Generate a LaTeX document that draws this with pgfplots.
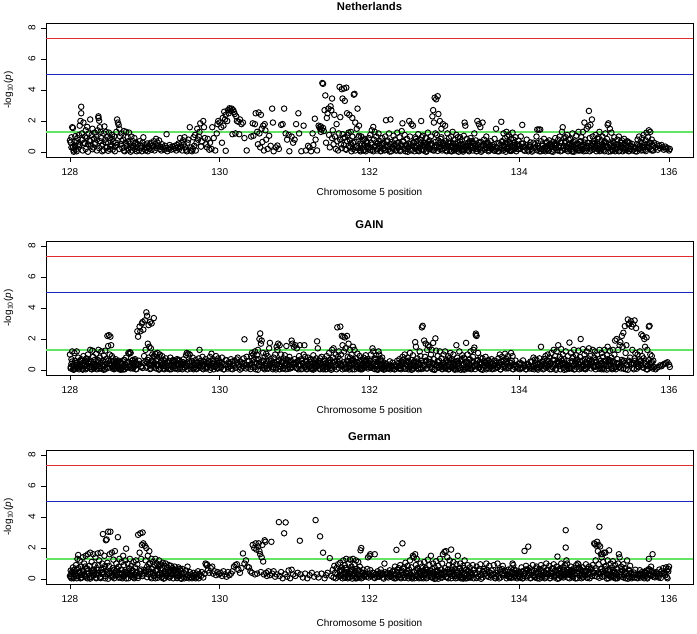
\documentclass[border=0pt]{standalone}
\usepackage{fontspec}
\setmainfont{Liberation Sans}
\usepackage{pgfplots}
\pgfplotsset{compat=1.18}
\definecolor{rred}{RGB}{225,45,45}
\definecolor{rblue}{RGB}{30,40,190}
\definecolor{rgreen}{RGB}{100,228,100}
\pgfplotsset{panel/.style={
  scale only axis, width=647pt, height=134pt, anchor=south west,
  xmin=127.68, xmax=136.32, ymin=-0.32, ymax=8.32,
  xtick={128,130,132,134,136}, ytick={0,2,4,6,8},
  tick align=outside, major tick length=5pt, tick pos=left,
  every tick/.style={line width=0.6pt},
  axis line style={line width=0.8pt},
  /pgf/number format/assume math mode=true,
  ticklabel style={font=\fontsize{10}{12}\selectfont},
  yticklabel style={rotate=90, anchor=south},
  xticklabel style={anchor=north},
  xticklabel shift=3pt, yticklabel shift=2pt,
},
dots/.style={only marks, mark=o, mark size=2.75pt, mark options={line width=0.95pt}},
hl/.style={mark=none, line width=0.9pt}}
\begin{document}
\begin{tikzpicture}[x=1pt,y=1pt]
\useasboundingbox (0,0) rectangle (697,633);
% ---------------- Netherlands
\begin{axis}[panel, at={(46pt,476pt)}]
\addplot[hl, draw=rred] coordinates {(127.68,7.3)(136.32,7.3)};
\addplot[hl, draw=rblue] coordinates {(127.68,5)(136.32,5)};
\addplot[dots] coordinates {
(128.00,0.75)(128.01,0.62)(128.02,0.95)(128.03,1.60)(128.04,1.55)(128.04,0.30)(128.05,0.10)(128.05,0.02)(128.06,0.22)(128.07,0.40)(128.07,1.02)(128.08,0.15)(128.09,0.70)(128.10,0.90)(128.11,0.50)(128.12,1.10)(128.12,0.35)(128.13,1.70)(128.14,2.00)(128.15,2.92)(128.15,2.50)(128.16,1.20)(128.17,0.80)(128.18,1.90)(128.19,0.60)(128.20,1.00)(128.21,1.40)(128.21,0.20)(128.22,0.90)(128.23,1.62)(128.24,0.50)(128.25,1.20)(128.26,0.75)(128.27,2.10)(128.28,0.40)(128.29,1.10)(128.30,1.50)(128.31,0.30)(128.32,0.85)(128.33,1.25)(128.34,0.60)(128.35,1.00)(128.36,0.10)(128.37,1.40)(128.38,2.30)(128.38,2.20)(128.39,2.02)(128.40,1.60)(128.40,0.70)(128.41,1.30)(128.42,0.90)(128.43,0.05)(128.44,0.50)(128.45,1.20)(128.46,1.65)(128.47,0.80)(128.48,1.30)(128.49,0.30)(128.50,1.00)(128.51,0.60)(128.52,1.25)(128.53,0.20)(128.54,0.90)(128.55,0.45)(128.56,1.10)(128.57,0.15)(128.58,0.70)(128.59,1.00)(128.60,0.35)(128.61,0.60)(128.62,1.30)(128.63,2.10)(128.64,1.90)(128.65,1.75)(128.66,1.50)(128.67,1.00)(128.68,0.50)(128.69,1.20)(128.70,0.25)(128.71,0.80)(128.72,1.35)(128.73,0.05)(128.74,0.60)(128.75,1.30)(128.76,0.40)(128.77,0.95)(128.78,0.15)(128.79,1.25)(128.80,0.55)(128.81,0.30)(128.82,1.00)(128.83,0.10)(128.84,0.70)(128.85,0.40)(128.86,0.90)(128.87,0.20)(128.88,0.60)(128.89,0.05)
(128.02,0.30)(128.06,0.65)(128.09,0.05)(128.13,0.45)(128.17,0.10)(128.20,0.55)(128.24,0.02)(128.27,0.70)(128.30,0.18)(128.33,0.50)(128.36,0.80)(128.39,0.25)(128.42,0.40)(128.45,0.12)(128.48,0.62)(128.51,0.08)(128.54,0.35)(128.57,0.85)(128.60,0.05)(128.63,0.45)(128.66,0.20)(128.69,0.72)(128.72,0.10)(128.75,0.50)(128.78,0.70)(128.81,0.02)(128.84,0.30)(128.87,0.55)
(128.90,0.30)(128.91,0.50)(128.92,0.10)(128.93,0.70)(128.94,0.25)(128.95,0.40)(128.96,0.05)(128.97,0.60)(128.98,0.95)(128.99,0.20)(129.00,0.45)(129.01,0.10)(129.02,0.30)(129.03,0.55)(129.04,0.05)(129.05,0.35)(129.06,0.20)(129.07,0.50)(129.08,0.60)(129.09,0.15)(129.10,0.40)(129.11,0.30)(129.12,0.70)(129.13,0.10)(129.14,0.50)(129.15,0.85)(129.16,0.25)(129.17,0.60)(129.18,0.40)(129.19,0.75)(129.20,0.20)(129.21,0.35)(129.22,0.10)(129.23,0.50)(129.24,0.30)(129.26,0.15)(129.27,0.40)(129.28,0.25)(129.29,1.15)(129.30,0.05)(129.32,0.20)(129.33,0.45)(129.34,0.30)(129.35,0.15)(129.37,0.35)(129.38,0.20)(129.40,0.40)(129.41,0.25)(129.42,0.10)(129.43,0.45)(129.44,0.30)(129.45,0.55)(129.46,0.20)(129.47,0.90)(129.48,0.35)(129.49,0.60)(129.50,0.10)(129.51,0.75)(129.52,0.50)(129.53,0.95)(129.54,0.30)(129.55,0.15)(129.56,0.05)(129.57,0.60)(129.58,0.80)
(129.60,1.60)(129.61,0.10)(129.62,0.30)(129.63,0.05)(129.64,0.20)(129.65,0.95)(129.66,0.40)(129.67,1.10)(129.68,0.10)(129.69,0.60)(129.70,1.50)(129.71,0.80)(129.72,1.00)(129.73,1.30)(129.74,1.85)(129.75,0.35)(129.76,0.70)(129.78,2.00)(129.79,1.60)(129.80,0.90)(129.82,0.50)(129.83,0.30)(129.84,0.85)(129.86,0.15)(129.87,0.60)(129.89,0.20)(129.90,1.60)(129.92,0.90)(129.94,0.10)(129.96,1.20)(129.97,1.80)(129.98,2.00)(130.00,1.90)
(130.02,1.60)(130.03,0.60)(130.04,2.20)(130.05,1.70)(130.06,2.60)(130.07,2.10)(130.08,2.40)(130.08,0.08)(130.10,2.00)(130.11,2.70)(130.12,2.50)(130.13,2.82)(130.14,2.75)(130.15,2.65)(130.16,2.80)(130.17,1.15)(130.18,2.70)(130.19,2.58)(130.20,2.45)(130.21,1.20)(130.22,2.30)(130.23,2.00)(130.25,1.95)(130.26,1.15)(130.27,2.10)(130.29,1.80)(130.31,1.90)(130.33,0.90)(130.36,0.10)
(130.42,1.00)(130.44,1.85)(130.45,1.05)(130.47,1.80)(130.48,2.50)(130.50,1.30)(130.51,0.50)(130.52,2.55)(130.53,1.20)(130.54,0.30)(130.55,2.40)(130.56,1.50)(130.57,0.65)(130.58,1.70)(130.59,0.10)(130.60,1.80)(130.61,1.40)(130.62,0.80)(130.64,0.20)(130.66,1.05)(130.68,0.40)(130.70,2.80)(130.71,1.90)(130.72,0.05)(130.75,0.30)(130.77,0.42)(130.79,0.20)(130.82,1.75)(130.84,1.80)(130.86,2.80)(130.88,1.20)(130.90,0.80)(130.92,1.10)(130.93,0.05)(130.96,1.00)(130.98,0.60)(131.00,0.80)(131.02,1.80)(131.05,2.50)(131.06,1.20)(131.09,0.05)(131.12,1.70)(131.15,0.10)(131.18,0.40)(131.20,0.30)(131.22,0.05)(131.24,1.20)(131.25,0.45)(131.27,2.15)(131.28,0.80)(131.30,0.10)
(131.32,1.70)(131.33,1.60)(131.34,1.50)(131.35,1.30)(131.35,1.65)(131.36,1.45)(131.37,4.45)(131.38,4.40)(131.38,1.55)(131.39,1.35)(131.40,2.70)(131.41,3.65)(131.42,0.60)(131.43,2.20)(131.44,2.50)(131.45,2.80)(131.46,1.10)(131.47,0.30)(131.48,2.95)(131.49,2.70)(131.50,3.45)(131.50,0.90)(131.51,1.40)(131.52,0.50)(131.53,2.40)(131.54,1.00)(131.55,0.20)(131.56,1.80)(131.57,0.70)(131.58,0.10)(131.59,1.20)
(131.60,4.20)(131.61,2.25)(131.62,0.50)(131.63,4.05)(131.64,3.45)(131.65,0.90)(131.66,4.10)(131.67,3.30)(131.68,0.20)(131.69,4.15)(131.70,2.50)(131.71,1.10)(131.72,0.40)(131.73,2.40)(131.74,0.75)(131.75,1.30)(131.76,0.05)(131.77,2.20)(131.78,0.60)(131.79,3.70)(131.80,3.75)(131.81,1.90)(131.82,0.30)(131.83,1.50)(131.84,2.80)(131.85,0.95)(131.86,1.70)(131.87,0.15)(131.88,0.55)(131.89,1.00)(131.90,0.25)(131.91,0.70)(131.92,0.10)(131.93,0.45)(131.94,0.85)(131.95,0.05)(131.96,0.35)(131.97,0.60)(131.98,0.20)(131.99,0.90)
(131.61,0.80)(131.63,0.25)(131.64,1.15)(131.66,0.45)(131.67,0.95)(131.69,0.15)(131.70,0.70)(131.72,1.25)(131.74,0.30)(131.75,0.55)(131.77,1.00)(131.78,0.20)(131.80,0.65)(131.81,0.10)(131.83,0.40)(131.85,0.25)(131.86,1.05)(131.88,0.05)(131.90,0.50)(131.92,0.80)(131.94,0.15)(131.96,0.70)(131.98,0.40)
(132.00,0.30)(132.01,1.10)(132.02,0.60)(132.03,1.40)(132.04,0.15)(132.05,1.62)(132.06,0.80)(132.07,1.30)(132.08,0.40)(132.09,1.00)(132.10,0.10)(132.11,0.55)(132.12,1.20)(132.13,0.25)(132.14,0.70)(132.15,0.05)(132.16,0.45)(132.17,0.90)(132.18,0.20)(132.19,0.60)(132.20,0.10)(132.21,1.00)(132.22,2.05)(132.23,0.35)(132.24,0.75)(132.25,0.15)(132.26,1.20)(132.27,0.50)(132.28,2.10)(132.29,0.05)(132.30,0.65)(132.31,0.30)(132.32,1.05)(132.33,0.20)(132.34,0.80)(132.35,0.45)(132.36,0.10)(132.37,1.25)(132.38,0.60)(132.39,0.30)(132.40,0.95)(132.41,0.15)(132.42,0.50)(132.43,1.35)(132.44,1.85)(132.45,0.70)(132.46,0.25)(132.47,1.10)(132.48,0.05)(132.49,0.40)
(132.50,0.85)(132.51,0.20)(132.52,0.55)(132.53,2.00)(132.54,1.00)(132.55,0.10)(132.56,1.80)(132.57,0.40)(132.58,1.70)(132.59,0.65)(132.60,0.05)(132.61,0.95)(132.62,0.30)(132.63,0.70)(132.64,0.15)(132.65,1.15)(132.66,0.50)(132.67,0.25)(132.68,0.80)(132.69,2.00)(132.70,0.40)(132.71,1.05)(132.72,0.10)(132.73,0.60)(132.74,0.35)(132.75,0.90)(132.76,0.02)(132.77,0.55)(132.78,1.25)(132.79,0.20)(132.80,0.75)(132.81,0.45)(132.82,1.00)(132.83,0.15)(132.84,2.30)(132.85,2.70)(132.86,1.90)(132.87,3.50)(132.88,0.65)(132.89,3.40)(132.90,1.10)(132.91,3.60)(132.92,2.45)(132.93,0.30)(132.94,2.00)(132.95,0.85)(132.96,1.50)(132.97,0.10)(132.98,1.80)(132.99,0.50)
(132.62,0.85)(132.66,0.05)(132.70,0.95)(132.74,0.60)(132.78,0.30)(132.82,0.55)(132.86,0.10)(132.88,1.20)(132.90,0.40)(132.92,0.75)(132.94,0.20)(132.96,0.95)(132.98,0.60)
(133.00,0.25)(133.01,1.70)(133.02,0.70)(133.03,0.05)(133.04,1.20)(133.05,0.40)(133.06,0.90)(133.07,0.15)(133.08,0.60)(133.09,1.00)(133.10,0.30)(133.11,1.30)(133.12,0.55)(133.13,0.10)(133.14,0.80)(133.15,0.35)(133.16,1.10)(133.17,0.20)(133.18,0.65)(133.19,0.02)(133.20,0.45)(133.21,0.95)(133.22,0.25)(133.23,0.75)(133.24,0.10)(133.25,0.50)(133.26,1.05)(133.27,1.90)(133.28,1.70)(133.29,0.35)(133.30,0.85)(133.31,0.15)(133.32,0.60)(133.33,0.05)(133.34,0.40)(133.35,0.90)(133.36,0.25)(133.37,0.70)(133.38,0.10)(133.39,0.55)(133.40,1.20)(133.41,0.30)(133.42,0.75)(133.43,0.05)(133.44,2.00)(133.45,0.45)(133.46,1.80)(133.47,0.20)(133.48,1.60)(133.49,0.65)
(133.02,0.35)(133.06,0.55)(133.10,0.05)(133.14,0.25)(133.18,0.95)(133.22,0.50)(133.26,0.15)(133.30,0.40)(133.34,0.70)(133.38,0.30)(133.42,0.20)(133.46,0.60)
(133.50,0.10)(133.51,1.90)(133.52,0.40)(133.53,0.80)(133.54,0.15)(133.55,0.55)(133.56,1.00)(133.57,0.25)(133.58,0.60)(133.59,0.05)(133.60,0.35)(133.62,0.70)(133.63,0.20)(133.64,0.45)(133.66,0.10)(133.67,0.85)(133.69,1.50)(133.70,0.30)(133.71,0.05)(133.73,0.55)(133.75,0.25)(133.76,1.95)(133.77,0.70)(133.78,0.10)(133.79,1.20)(133.80,0.40)(133.81,0.90)(133.82,0.02)(133.83,1.30)(133.84,0.50)(133.85,0.20)(133.86,1.10)(133.87,0.65)(133.88,0.08)(133.89,0.85)(133.90,0.35)(133.91,1.25)(133.92,0.15)(133.93,0.60)(133.94,0.30)(133.95,0.95)(133.96,0.05)(133.97,0.50)(133.98,0.20)(133.99,0.75)
(133.80,0.15)(133.82,0.60)(133.84,1.00)(133.86,0.30)(133.88,0.55)(133.90,0.10)(133.92,0.80)(133.94,0.45)
(134.00,0.40)(134.02,1.00)(134.04,1.75)(134.05,0.55)(134.06,0.15)(134.08,0.30)(134.10,0.80)(134.12,0.05)(134.14,0.45)(134.16,0.20)(134.18,0.10)(134.19,0.60)(134.21,0.30)(134.23,1.00)(134.24,1.45)(134.25,0.40)(134.26,1.45)(134.27,0.05)(134.28,1.45)(134.29,0.70)(134.30,0.20)(134.31,0.50)(134.32,0.10)(134.33,0.85)(134.34,0.30)(134.35,0.05)(134.36,0.60)(134.37,0.20)(134.38,0.40)(134.39,0.10)(134.40,0.75)(134.41,0.25)(134.42,0.50)(134.43,0.05)(134.44,0.35)(134.45,0.65)(134.46,0.15)(134.47,0.45)(134.48,0.90)(134.49,0.25)
(134.50,0.55)(134.51,0.10)(134.52,0.80)(134.53,0.30)(134.54,1.00)(134.55,0.05)(134.56,0.60)(134.57,1.30)(134.58,1.60)(134.59,0.40)(134.60,0.90)(134.61,0.15)(134.62,0.70)(134.63,0.35)(134.64,1.10)(134.65,0.05)(134.66,0.50)(134.67,0.25)(134.68,0.85)(134.69,0.15)(134.70,0.60)(134.71,1.20)(134.72,0.40)(134.73,0.02)(134.74,0.75)(134.75,0.30)(134.76,1.05)(134.77,0.20)(134.78,0.55)(134.79,1.30)(134.80,0.10)(134.81,0.65)(134.82,0.35)(134.83,0.95)(134.84,0.15)(134.85,1.30)(134.86,0.45)(134.87,1.90)(134.88,0.80)(134.89,0.25)(134.90,1.50)(134.91,0.60)(134.92,1.65)(134.93,2.65)(134.94,0.05)(134.95,1.75)(134.96,0.40)(134.97,2.10)(134.98,1.00)(134.99,0.20)
(134.62,0.95)(134.66,0.80)(134.70,0.05)(134.74,0.45)(134.78,0.10)(134.82,0.70)(134.86,0.05)(134.90,0.40)(134.94,0.90)(134.98,0.55)
(135.00,0.70)(135.01,0.30)(135.02,1.10)(135.03,0.05)(135.04,0.55)(135.05,0.85)(135.06,0.20)(135.07,1.30)(135.08,0.45)(135.09,0.10)(135.10,0.75)(135.11,1.00)(135.12,0.30)(135.13,0.60)(135.14,0.05)(135.15,1.20)(135.16,0.40)(135.17,0.85)(135.18,1.75)(135.19,1.85)(135.20,0.25)(135.21,1.50)(135.22,0.55)(135.23,1.25)(135.24,0.15)(135.25,0.70)(135.26,0.35)(135.27,0.95)(135.28,0.05)(135.29,0.50)(135.30,0.20)(135.31,0.80)(135.32,0.30)(135.33,1.00)(135.34,0.10)(135.35,0.60)(135.36,0.40)(135.37,0.75)(135.38,0.05)(135.39,0.45)(135.40,0.85)(135.41,0.25)(135.42,0.55)(135.43,0.15)(135.44,0.70)(135.45,0.35)(135.46,0.05)(135.47,0.60)(135.48,0.20)(135.49,0.40)
(135.02,0.40)(135.06,0.95)(135.10,0.20)(135.14,0.70)(135.18,0.35)(135.22,0.05)(135.26,0.60)
(135.51,0.10)(135.53,0.30)(135.55,0.05)(135.57,0.50)(135.58,0.80)(135.59,0.20)(135.60,1.00)(135.61,0.40)(135.62,0.65)(135.63,0.10)(135.64,0.90)(135.65,0.30)(135.66,1.10)(135.67,0.55)(135.68,0.15)(135.69,0.75)(135.70,1.25)(135.71,0.35)(135.72,0.95)(135.73,1.40)(135.74,0.60)(135.75,1.30)(135.76,0.20)(135.77,0.80)(135.78,0.45)(135.79,0.10)(135.80,0.60)(135.82,0.30)(135.84,0.50)(135.85,0.15)(135.87,0.40)(135.88,0.25)(135.90,0.45)(135.92,0.30)(135.93,0.15)(135.95,0.35)(135.96,0.20)(135.98,0.25)(136.00,0.10)(136.01,0.20)
};
\addplot[dots] coordinates {
(132.01,0.12)(132.03,0.48)(132.05,0.05)(132.07,0.33)(132.09,0.62)(132.11,0.20)(132.13,0.41)(132.15,0.08)(132.17,0.55)(132.19,0.27)(132.21,0.15)(132.23,0.68)(132.25,0.36)(132.27,0.03)(132.29,0.50)(132.31,0.22)(132.33,0.44)(132.35,0.10)(132.37,0.58)(132.39,0.30)(132.41,0.06)(132.43,0.39)(132.45,0.65)(132.47,0.18)(132.49,0.46)(132.51,0.02)(132.53,0.35)(132.55,0.52)(132.57,0.14)(132.59,0.60)(132.61,0.25)(132.63,0.42)(132.65,0.09)(132.67,0.31)(132.69,0.57)(132.71,0.17)(132.73,0.47)(132.75,0.04)(132.77,0.38)(132.79,0.64)(132.81,0.21)(132.83,0.53)(132.85,0.11)(132.87,0.29)(132.89,0.45)(132.91,0.07)(132.93,0.34)(132.95,0.61)(132.97,0.19)(132.99,0.40)
(133.01,0.48)(133.03,0.12)(133.05,0.62)(133.07,0.33)(133.09,0.05)(133.11,0.41)(133.13,0.20)(133.15,0.55)(133.17,0.08)(133.19,0.27)(133.21,0.68)(133.23,0.15)(133.25,0.03)(133.27,0.36)(133.29,0.22)(133.31,0.50)(133.33,0.10)(133.35,0.44)(133.37,0.30)(133.39,0.58)(133.41,0.39)(133.43,0.06)(133.45,0.18)(133.47,0.65)(133.49,0.02)(133.51,0.46)(133.53,0.52)(133.55,0.35)(133.57,0.60)(133.59,0.14)(133.61,0.42)(133.63,0.25)(133.65,0.31)(133.67,0.09)(133.69,0.17)(133.71,0.57)(133.73,0.04)(133.75,0.47)(133.77,0.64)(133.79,0.38)(133.81,0.53)(133.83,0.21)(133.85,0.29)(133.87,0.11)(133.89,0.07)(133.91,0.45)(133.93,0.61)(133.95,0.34)(133.97,0.40)(133.99,0.19)
(134.01,0.20)(134.03,0.55)(134.05,0.33)(134.07,0.08)(134.09,0.44)(134.11,0.15)(134.13,0.36)(134.15,0.62)(134.17,0.03)(134.19,0.27)(134.21,0.50)(134.23,0.12)(134.25,0.58)(134.27,0.22)(134.29,0.05)(134.31,0.41)(134.33,0.18)(134.35,0.30)(134.37,0.65)(134.39,0.10)(134.41,0.46)(134.43,0.35)(134.45,0.02)(134.47,0.52)(134.49,0.39)(134.51,0.14)(134.53,0.42)(134.55,0.60)(134.57,0.09)(134.59,0.25)(134.61,0.57)(134.63,0.31)(134.65,0.17)(134.67,0.47)(134.69,0.38)(134.71,0.04)(134.73,0.64)(134.75,0.21)(134.77,0.53)(134.79,0.29)(134.81,0.11)(134.83,0.45)(134.85,0.19)(134.87,0.61)(134.89,0.07)(134.91,0.34)(134.93,0.40)(134.95,0.24)(134.97,0.13)(134.99,0.49)
(135.01,0.58)(135.03,0.22)(135.05,0.40)(135.07,0.06)(135.09,0.33)(135.11,0.50)(135.13,0.15)(135.15,0.62)(135.17,0.28)(135.19,0.03)(135.21,0.44)(135.23,0.37)(135.25,0.10)(135.27,0.56)(135.29,0.19)(135.31,0.47)(135.33,0.05)(135.35,0.31)(135.37,0.60)(135.39,0.24)(135.41,0.12)(135.43,0.42)(135.45,0.66)(135.47,0.08)(135.49,0.36)(135.51,0.51)(135.53,0.17)(135.55,0.29)(135.57,0.04)(135.59,0.45)(135.61,0.22)(135.63,0.55)(135.65,0.13)(135.67,0.34)(135.69,0.06)(135.71,0.48)(135.73,0.27)(135.75,0.60)(135.77,0.10)(135.79,0.38)
};
\addplot[draw=rgreen, mark=none, line width=2pt] coordinates {(127.68,1.3)(136.32,1.3)};
\end{axis}
% ---------------- GAIN
\begin{axis}[panel, at={(46pt,258pt)}]
\addplot[hl, draw=rred] coordinates {(127.68,7.3)(136.32,7.3)};
\addplot[hl, draw=rblue] coordinates {(127.68,5)(136.32,5)};
\addplot[dots] coordinates {
(128.00,1.00)(128.01,0.10)(128.02,0.40)(128.03,1.20)(128.04,0.05)(128.05,0.25)(128.06,1.10)(128.07,0.60)(128.08,0.15)(128.09,1.20)(128.10,0.35)(128.11,0.80)(128.12,0.05)(128.13,0.50)(128.14,0.20)(128.15,0.70)(128.16,0.10)(128.17,0.45)(128.18,0.90)(128.19,0.30)(128.20,0.60)(128.21,0.05)(128.22,0.75)(128.23,0.25)(128.24,1.00)(128.25,0.40)(128.26,0.15)(128.27,1.30)(128.28,0.55)(128.29,0.20)(128.30,1.25)(128.31,0.85)(128.32,0.10)(128.33,0.65)(128.34,0.35)(128.35,1.05)(128.36,0.05)(128.37,0.50)(128.38,1.30)(128.39,0.25)(128.40,0.80)(128.41,0.45)(128.42,1.20)(128.43,0.10)(128.44,0.60)(128.45,0.95)(128.46,0.30)(128.47,1.25)(128.48,0.70)(128.49,0.15)
(128.02,0.70)(128.05,0.02)(128.08,0.45)(128.11,0.25)(128.14,0.60)(128.17,0.05)(128.20,0.35)(128.23,0.70)(128.26,0.50)(128.29,0.05)(128.32,0.40)(128.35,0.25)(128.38,0.60)(128.41,0.10)(128.44,0.30)(128.47,0.05)
(128.50,2.20)(128.51,1.55)(128.52,2.25)(128.53,0.40)(128.54,2.15)(128.55,1.60)(128.56,0.90)(128.57,0.20)(128.58,0.55)(128.59,0.05)(128.60,0.35)(128.61,0.70)(128.62,0.15)(128.63,0.45)(128.64,0.25)(128.65,0.60)(128.66,0.05)(128.67,0.30)(128.68,0.50)(128.69,0.10)(128.70,0.40)(128.71,0.20)(128.72,0.65)(128.73,0.05)(128.74,0.35)(128.75,0.80)(128.76,0.15)(128.77,0.50)(128.78,1.10)(128.79,1.05)(128.80,1.15)(128.81,1.10)(128.82,0.30)(128.83,0.60)(128.84,0.10)(128.85,0.45)(128.86,0.25)(128.87,0.70)(128.88,0.05)(128.89,0.40)(128.90,2.50)(128.91,2.15)(128.92,0.60)(128.93,2.80)(128.94,2.50)(128.95,0.20)(128.96,3.00)(128.97,3.10)(128.98,2.60)(128.99,0.90)
(128.51,0.60)(128.53,1.00)(128.55,0.30)(128.57,0.75)(128.60,0.10)(128.64,0.55)(128.68,0.02)(128.72,0.25)(128.76,0.45)(128.80,0.20)(128.84,0.65)(128.88,0.35)
(129.00,3.20)(129.01,1.30)(129.02,3.72)(129.03,3.50)(129.03,0.50)(129.04,1.70)(129.05,2.90)(129.05,0.80)(129.06,1.50)(129.07,3.10)(129.07,0.30)(129.08,1.40)(129.09,3.00)(129.09,0.60)(129.10,1.00)(129.11,0.20)(129.12,3.35)(129.12,0.90)(129.13,0.45)(129.14,1.05)(129.15,0.10)(129.16,0.70)(129.17,1.10)(129.18,0.35)(129.19,0.85)(129.20,1.00)(129.21,0.15)(129.22,0.55)(129.23,0.90)(129.24,0.25)(129.25,0.65)(129.26,0.05)(129.27,0.40)(129.28,0.75)(129.29,0.20)(129.30,0.50)(129.31,0.10)(129.32,0.60)(129.33,0.30)(129.34,0.80)(129.35,0.05)(129.36,0.45)(129.37,0.20)(129.38,0.65)(129.39,0.35)(129.40,0.10)(129.41,0.55)(129.42,0.25)(129.43,0.70)(129.44,0.05)(129.45,0.40)(129.46,0.60)(129.47,0.15)(129.48,0.50)(129.49,0.30)
(129.02,0.15)(129.04,0.65)(129.06,0.35)(129.08,0.10)(129.10,0.55)(129.13,0.85)(129.16,0.30)(129.19,0.05)(129.22,0.30)(129.25,0.10)
(129.50,0.05)(129.51,0.35)(129.52,0.70)(129.53,0.15)(129.54,0.45)(129.55,0.95)(129.56,1.10)(129.57,0.25)(129.58,1.05)(129.59,0.55)(129.60,1.00)(129.61,0.10)(129.62,0.60)(129.63,0.30)(129.64,0.80)(129.65,0.05)(129.66,0.40)(129.67,0.20)(129.68,0.65)(129.69,0.10)(129.70,0.50)(129.71,0.30)(129.72,0.75)(129.73,1.30)(129.74,0.15)(129.75,0.45)(129.76,0.25)(129.77,0.85)(129.78,0.05)(129.79,0.55)(129.80,0.35)(129.81,0.70)(129.82,0.10)(129.83,0.45)(129.84,0.20)(129.85,0.60)(129.86,0.30)(129.87,0.85)(129.88,0.15)(129.89,1.05)(129.90,0.40)(129.91,0.70)(129.92,0.05)(129.93,0.50)(129.94,0.25)(129.95,0.90)(129.96,0.60)(129.97,0.15)(129.98,0.75)(129.99,0.35)
(130.00,0.55)(130.02,0.20)(130.03,0.80)(130.05,0.40)(130.06,0.05)(130.08,0.65)(130.09,0.30)(130.11,0.10)(130.12,0.50)(130.14,0.25)(130.15,0.70)(130.17,0.05)(130.18,0.35)(130.20,0.60)(130.21,0.15)(130.23,0.45)(130.24,0.80)(130.26,0.20)(130.27,0.55)(130.29,0.10)(130.30,0.40)(130.32,0.75)(130.33,1.98)(130.35,0.30)(130.36,0.85)(130.38,0.15)(130.39,0.60)(130.41,0.35)(130.42,0.90)(130.43,1.10)(130.44,0.20)(130.45,1.00)(130.46,0.50)(130.47,1.20)(130.48,0.05)(130.49,0.70)
(130.50,0.95)(130.51,1.30)(130.52,0.25)(130.53,2.00)(130.54,2.36)(130.55,1.70)(130.56,1.90)(130.57,0.60)(130.58,1.10)(130.59,0.15)(130.60,0.85)(130.61,0.40)(130.62,1.05)(130.63,0.10)(130.64,0.55)(130.65,0.30)(130.66,1.40)(130.67,1.75)(130.68,0.70)(130.69,0.20)(130.70,0.45)(130.71,0.05)(130.72,0.80)(130.73,0.35)(130.74,1.00)(130.75,0.15)(130.76,1.50)(130.77,1.30)(130.78,1.70)(130.79,0.60)(130.80,1.60)(130.81,0.25)(130.82,1.00)(130.83,0.50)(130.84,0.10)(130.85,0.75)(130.86,0.30)(130.87,0.95)(130.88,0.05)(130.89,1.55)(130.90,0.40)(130.91,0.65)(130.92,0.20)(130.93,0.85)(130.94,0.10)(130.95,0.50)(130.96,1.90)(130.97,1.70)(130.98,0.35)(130.99,1.50)
(130.52,0.70)(130.56,0.30)(130.60,0.05)(130.64,0.90)(130.68,0.35)(130.72,0.15)(130.76,0.55)(130.80,0.05)(130.84,0.60)(130.88,0.45)(130.92,0.55)(130.96,0.15)
(131.00,0.70)(131.01,1.60)(131.02,0.15)(131.03,1.40)(131.04,0.55)(131.05,0.05)(131.06,0.90)(131.07,1.60)(131.08,0.30)(131.09,0.70)(131.10,0.10)(131.11,0.45)(131.12,1.00)(131.13,1.60)(131.14,0.20)(131.15,0.60)(131.16,0.05)(131.17,0.35)(131.18,0.80)(131.19,0.15)(131.20,0.50)(131.21,0.25)(131.22,0.70)(131.23,0.05)(131.24,0.40)(131.25,0.95)(131.26,0.20)(131.27,0.55)(131.28,0.10)(131.29,0.75)(131.30,1.85)(131.31,1.40)(131.32,0.30)(131.33,0.60)(131.34,0.05)(131.35,0.45)(131.36,0.85)(131.37,0.15)(131.38,0.50)(131.39,0.25)(131.40,0.70)(131.41,0.05)(131.42,0.40)(131.43,0.90)(131.44,0.20)(131.45,0.55)(131.46,1.10)(131.47,0.10)(131.48,0.65)(131.49,0.30)(131.50,1.30)(131.51,0.80)(131.52,1.40)(131.53,0.20)(131.54,0.55)(131.55,1.00)(131.56,0.05)(131.57,2.75)(131.58,0.40)(131.59,1.20)
(131.02,0.50)(131.06,0.25)(131.10,0.60)(131.14,0.85)(131.18,0.40)(131.22,0.10)(131.26,0.65)(131.30,0.35)(131.34,0.75)(131.38,0.05)(131.42,0.20)(131.46,0.45)(131.50,0.10)(131.54,0.30)(131.58,0.85)
(131.60,0.70)(131.61,2.80)(131.62,0.30)(131.63,2.20)(131.64,1.60)(131.65,2.15)(131.66,0.50)(131.67,2.10)(131.68,1.40)(131.69,0.10)(131.70,2.20)(131.71,0.85)(131.72,1.70)(131.73,0.25)(131.74,1.30)(131.75,0.60)(131.76,1.00)(131.77,0.05)(131.78,1.50)(131.79,0.45)(131.80,1.30)(131.81,0.20)(131.82,0.75)(131.83,0.35)(131.84,1.05)(131.85,0.10)(131.86,0.55)(131.87,0.90)(131.88,0.25)(131.89,0.65)(131.90,0.05)(131.91,0.40)(131.92,0.80)(131.93,0.15)(131.94,0.50)(131.95,0.95)(131.96,0.30)(131.97,0.70)(131.98,0.10)(131.99,0.45)
(131.62,1.00)(131.64,0.05)(131.66,1.20)(131.68,0.40)(131.70,0.60)(131.72,0.15)(131.74,0.80)(131.76,0.35)(131.78,0.70)(131.80,0.05)(131.84,0.50)(131.88,0.05)(131.92,0.30)(131.96,0.60)
(132.00,0.60)(132.01,0.20)(132.02,1.00)(132.03,0.40)(132.04,1.40)(132.05,1.20)(132.06,0.10)(132.07,0.75)(132.08,0.30)(132.09,0.95)(132.10,0.05)(132.11,0.55)(132.12,1.20)(132.13,1.00)(132.14,0.25)(132.15,0.70)(132.16,0.10)(132.17,0.40)(132.18,0.20)(132.19,0.35)(132.20,0.05)(132.21,0.25)(132.22,0.40)(132.23,0.10)(132.24,0.30)(132.26,0.15)(132.27,0.35)(132.28,0.05)(132.30,0.25)(132.31,0.10)(132.33,0.30)(132.34,0.05)(132.36,0.20)(132.38,0.45)(132.39,0.10)(132.40,0.70)(132.41,0.30)(132.42,0.05)(132.43,0.55)(132.44,0.85)(132.45,0.20)(132.46,0.45)(132.47,1.00)(132.48,0.10)(132.49,0.60)
(132.02,0.15)(132.05,0.55)(132.08,0.70)(132.11,0.02)(132.14,0.60)(132.17,0.80)
(132.50,0.30)(132.51,0.80)(132.52,0.05)(132.53,0.50)(132.54,1.10)(132.55,0.20)(132.56,0.65)(132.57,0.35)(132.58,0.95)(132.59,0.10)(132.60,0.55)(132.61,1.80)(132.62,1.50)(132.63,0.25)(132.64,0.75)(132.65,0.05)(132.66,0.45)(132.67,1.20)(132.68,0.15)(132.69,0.60)(132.70,2.75)(132.71,2.85)(132.72,0.35)(132.73,1.90)(132.74,0.85)(132.75,1.70)(132.76,0.10)(132.77,1.30)(132.78,1.60)(132.79,0.50)(132.80,1.50)(132.81,0.20)(132.82,1.00)(132.83,1.30)(132.84,0.40)(132.85,1.75)(132.86,0.70)(132.87,0.05)(132.88,2.04)(132.89,1.25)(132.90,0.30)(132.91,0.90)(132.92,0.15)(132.93,0.60)(132.94,1.20)(132.95,0.25)(132.96,0.75)(132.97,0.05)(132.98,0.45)(132.99,1.00)
(132.52,0.60)(132.56,0.02)(132.60,0.30)(132.64,0.40)(132.68,0.90)(132.72,0.10)(132.76,0.60)(132.80,0.70)(132.84,0.05)(132.88,0.40)(132.92,0.50)(132.96,0.20)
(133.00,0.35)(133.01,1.20)(133.02,0.10)(133.03,0.65)(133.04,0.25)(133.05,0.90)(133.06,0.05)(133.07,0.50)(133.08,1.10)(133.09,0.20)(133.10,0.70)(133.11,0.35)(133.12,1.00)(133.13,0.10)(133.14,0.55)(133.15,0.30)(133.16,1.60)(133.17,0.80)(133.18,0.05)(133.19,0.45)(133.20,1.20)(133.21,0.15)(133.22,0.60)(133.23,0.30)(133.24,0.95)(133.25,0.05)(133.26,0.40)(133.27,0.75)(133.28,0.20)(133.29,1.75)(133.30,0.55)(133.31,1.00)(133.32,0.10)(133.33,0.65)(133.34,0.30)(133.35,1.20)(133.36,0.05)(133.37,0.45)(133.38,0.85)(133.39,1.30)(133.40,1.45)(133.41,0.25)(133.42,2.35)(133.42,2.25)(133.43,2.20)(133.44,0.60)(133.45,1.10)(133.46,0.15)(133.47,0.50)(133.48,0.80)(133.49,0.05)
(133.02,0.55)(133.06,0.75)(133.10,0.15)(133.14,0.02)(133.18,0.60)(133.22,0.02)(133.26,0.80)(133.30,0.10)(133.34,0.70)(133.38,0.20)(133.44,0.30)(133.48,0.35)
(133.50,0.40)(133.51,0.75)(133.52,0.15)(133.53,0.55)(133.54,0.25)(133.55,0.85)(133.56,0.05)(133.57,0.45)(133.58,0.30)(133.59,0.65)(133.60,0.10)(133.61,0.50)(133.62,0.20)(133.63,0.70)(133.64,0.05)(133.65,0.40)(133.66,0.25)(133.67,0.60)(133.68,0.10)(133.69,0.45)(133.71,0.20)(133.72,0.75)(133.73,0.35)(133.74,1.00)(133.75,0.05)(133.76,0.55)(133.77,0.85)(133.78,0.20)(133.79,0.60)(133.80,0.30)(133.81,1.05)(133.82,0.10)(133.83,0.70)(133.84,0.40)(133.85,0.90)(133.86,0.15)(133.87,0.50)(133.88,0.25)(133.89,1.10)(133.90,0.60)(133.91,0.90)(133.92,0.05)(133.93,0.35)(133.94,0.20)(133.96,0.30)(133.98,0.10)
(134.01,0.05)(134.03,0.40)(134.05,0.15)(134.07,0.25)(134.09,0.05)(134.12,0.35)(134.14,0.10)(134.16,0.50)(134.18,0.20)(134.19,0.80)(134.20,0.05)(134.21,0.45)(134.22,0.30)(134.23,0.65)(134.24,0.10)(134.25,0.40)(134.26,0.20)(134.27,0.75)(134.29,1.50)(134.30,0.35)(134.31,0.55)(134.32,0.05)(134.33,0.70)(134.34,0.25)(134.35,0.90)(134.36,0.15)(134.37,0.60)(134.38,1.00)(134.39,0.30)(134.40,0.80)(134.41,0.05)(134.42,0.45)(134.43,1.10)(134.44,0.20)(134.45,0.65)(134.46,1.30)(134.47,0.40)(134.48,0.90)(134.49,0.10)
(134.50,1.20)(134.51,0.55)(134.52,1.60)(134.53,0.25)(134.54,0.85)(134.55,0.05)(134.56,1.35)(134.57,0.45)(134.58,1.00)(134.59,0.15)(134.60,0.70)(134.61,0.35)(134.62,1.20)(134.63,0.05)(134.64,0.60)(134.65,0.90)(134.66,0.25)(134.67,1.77)(134.68,0.50)(134.69,1.10)(134.70,0.10)(134.71,0.75)(134.72,0.30)(134.73,1.30)(134.74,0.05)(134.75,0.55)(134.76,0.95)(134.77,0.20)(134.78,0.65)(134.79,1.25)(134.80,0.40)(134.81,0.85)(134.82,2.00)(134.83,0.10)(134.84,0.60)(134.85,1.35)(134.86,0.30)(134.87,1.00)(134.88,0.05)(134.89,0.50)(134.90,1.20)(134.91,0.20)(134.92,0.75)(134.93,1.40)(134.94,0.35)(134.95,0.90)(134.96,0.10)(134.97,0.60)(134.98,1.30)(134.99,0.25)
(134.52,0.40)(134.56,0.70)(134.60,0.02)(134.64,0.30)(134.68,0.15)(134.72,0.85)(134.76,0.40)(134.80,0.05)(134.84,0.20)(134.88,0.70)(134.92,0.40)(134.96,0.50)
(135.00,0.80)(135.01,1.20)(135.02,0.05)(135.03,0.50)(135.04,1.00)(135.05,0.30)(135.06,0.70)(135.07,1.30)(135.08,0.15)(135.09,0.60)(135.10,1.10)(135.11,0.40)(135.12,0.85)(135.13,0.05)(135.14,1.30)(135.15,0.55)(135.16,0.25)(135.17,0.95)(135.18,1.50)(135.19,0.10)(135.20,0.65)(135.21,1.25)(135.22,0.35)(135.23,0.80)(135.24,0.05)(135.25,1.30)(135.26,0.50)(135.27,1.00)(135.28,1.90)(135.29,0.20)(135.30,2.00)(135.31,0.70)(135.32,1.30)(135.33,0.40)(135.34,1.60)(135.35,1.80)(135.36,0.10)(135.37,2.20)(135.38,1.50)(135.39,2.40)(135.40,0.60)(135.41,2.83)(135.42,1.10)(135.43,1.60)(135.44,0.30)(135.45,3.26)(135.46,2.95)(135.47,3.00)(135.48,0.80)(135.49,3.15)(135.50,2.80)(135.51,1.30)(135.52,2.95)(135.53,0.05)(135.54,3.20)(135.55,1.10)(135.56,2.70)(135.57,0.50)(135.58,1.00)(135.59,0.20)
(135.02,0.65)(135.06,0.25)(135.10,0.05)(135.14,0.35)(135.18,0.70)(135.22,0.60)(135.26,0.10)(135.30,0.45)(135.34,0.20)(135.38,0.55)(135.42,0.05)(135.46,0.60)(135.50,0.35)(135.54,0.75)(135.58,0.40)
(135.60,0.70)(135.61,1.20)(135.62,0.30)(135.63,2.30)(135.64,0.90)(135.65,2.20)(135.66,0.15)(135.67,2.00)(135.68,1.50)(135.69,0.60)(135.70,2.10)(135.71,1.30)(135.72,0.25)(135.73,2.80)(135.74,2.85)(135.75,1.00)(135.76,0.45)(135.77,0.90)(135.78,0.10)(135.79,0.60)(135.80,0.20)(135.82,0.05)(135.84,0.15)(135.86,0.20)(135.88,0.30)(135.90,0.25)(135.92,0.35)(135.94,0.40)(135.96,0.45)(135.98,0.50)(136.00,0.35)(136.01,0.20)
(135.62,0.55)(135.66,0.75)(135.70,0.05)(135.74,0.40)(135.77,0.20)
};
\addplot[dots] coordinates {
(128.01,0.20)(128.03,0.55)(128.05,0.33)(128.07,0.08)(128.09,0.44)(128.11,0.15)(128.13,0.36)(128.15,0.62)(128.17,0.03)(128.19,0.27)(128.21,0.50)(128.23,0.12)(128.25,0.58)(128.27,0.22)(128.29,0.05)(128.31,0.41)(128.33,0.18)(128.35,0.30)(128.37,0.65)(128.39,0.10)(128.41,0.46)(128.43,0.35)(128.45,0.02)(128.47,0.52)(128.49,0.39)(128.51,0.14)(128.53,0.42)(128.55,0.60)(128.57,0.09)(128.59,0.25)(128.61,0.57)(128.63,0.31)(128.65,0.17)(128.67,0.47)(128.69,0.38)(128.71,0.04)(128.73,0.64)(128.75,0.21)(128.77,0.53)(128.79,0.29)(128.81,0.11)(128.83,0.45)(128.85,0.19)(128.87,0.61)(128.89,0.07)(128.91,0.34)(128.93,0.40)(128.95,0.24)(128.97,0.13)(128.99,0.49)
(129.01,0.58)(129.03,0.22)(129.05,0.40)(129.07,0.06)(129.09,0.33)(129.11,0.50)(129.13,0.15)(129.15,0.62)(129.17,0.28)(129.19,0.03)(129.21,0.44)(129.23,0.37)(129.25,0.10)(129.27,0.56)(129.29,0.19)(129.31,0.47)(129.33,0.05)(129.35,0.31)(129.37,0.60)(129.39,0.24)(129.41,0.12)(129.43,0.42)(129.45,0.66)(129.47,0.08)(129.49,0.36)(129.51,0.51)(129.53,0.17)(129.55,0.29)(129.57,0.04)(129.59,0.45)(129.61,0.22)(129.63,0.55)(129.65,0.13)(129.67,0.34)(129.69,0.06)(129.71,0.48)(129.73,0.27)(129.75,0.60)(129.77,0.10)(129.79,0.38)(129.81,0.52)(129.83,0.16)(129.85,0.43)(129.87,0.01)(129.89,0.30)(129.91,0.57)(129.93,0.20)(129.95,0.35)(129.97,0.09)(129.99,0.46)
(130.01,0.12)(130.03,0.48)(130.05,0.05)(130.07,0.33)(130.09,0.62)(130.11,0.20)(130.13,0.41)(130.15,0.08)(130.17,0.55)(130.19,0.27)(130.21,0.15)(130.23,0.68)(130.25,0.36)(130.27,0.03)(130.29,0.50)(130.31,0.22)(130.33,0.44)(130.35,0.10)(130.37,0.58)(130.39,0.30)(130.41,0.06)(130.43,0.39)(130.45,0.65)(130.47,0.18)(130.49,0.46)(130.51,0.02)(130.53,0.35)(130.55,0.52)(130.57,0.14)(130.59,0.60)(130.61,0.25)(130.63,0.42)(130.65,0.09)(130.67,0.31)(130.69,0.57)(130.71,0.17)(130.73,0.47)(130.75,0.04)(130.77,0.38)(130.79,0.64)(130.81,0.21)(130.83,0.53)(130.85,0.11)(130.87,0.29)(130.89,0.45)(130.91,0.07)(130.93,0.34)(130.95,0.61)(130.97,0.19)(130.99,0.40)
(131.01,0.48)(131.03,0.12)(131.05,0.62)(131.07,0.33)(131.09,0.05)(131.11,0.41)(131.13,0.20)(131.15,0.55)(131.17,0.08)(131.19,0.27)(131.21,0.68)(131.23,0.15)(131.25,0.03)(131.27,0.36)(131.29,0.22)(131.31,0.50)(131.33,0.10)(131.35,0.44)(131.37,0.30)(131.39,0.58)(131.41,0.39)(131.43,0.06)(131.45,0.18)(131.47,0.65)(131.49,0.02)(131.51,0.46)(131.53,0.52)(131.55,0.35)(131.57,0.60)(131.59,0.14)(131.61,0.42)(131.63,0.25)(131.65,0.31)(131.67,0.09)(131.69,0.17)(131.71,0.57)(131.73,0.04)(131.75,0.47)(131.77,0.64)(131.79,0.38)(131.81,0.53)(131.83,0.21)(131.85,0.29)(131.87,0.11)(131.89,0.07)(131.91,0.45)(131.93,0.61)(131.95,0.34)(131.97,0.40)(131.99,0.19)
(132.01,0.58)(132.03,0.22)(132.05,0.40)(132.07,0.06)(132.09,0.33)(132.11,0.50)(132.13,0.15)(132.15,0.62)(132.17,0.28)(132.19,0.03)(132.21,0.44)(132.23,0.37)(132.25,0.10)(132.27,0.56)(132.29,0.19)(132.31,0.47)(132.33,0.05)(132.35,0.31)(132.37,0.60)(132.39,0.24)(132.41,0.12)(132.43,0.42)(132.45,0.66)(132.47,0.08)(132.49,0.36)(132.51,0.51)(132.53,0.17)(132.55,0.29)(132.57,0.04)(132.59,0.45)(132.61,0.22)(132.63,0.55)(132.65,0.13)(132.67,0.34)(132.69,0.06)(132.71,0.48)(132.73,0.27)(132.75,0.60)(132.77,0.10)(132.79,0.38)(132.81,0.52)(132.83,0.16)(132.85,0.43)(132.87,0.01)(132.89,0.30)(132.91,0.57)(132.93,0.20)(132.95,0.35)(132.97,0.09)(132.99,0.46)
(133.01,0.12)(133.03,0.48)(133.05,0.05)(133.07,0.33)(133.09,0.62)(133.11,0.20)(133.13,0.41)(133.15,0.08)(133.17,0.55)(133.19,0.27)(133.21,0.15)(133.23,0.68)(133.25,0.36)(133.27,0.03)(133.29,0.50)(133.31,0.22)(133.33,0.44)(133.35,0.10)(133.37,0.58)(133.39,0.30)(133.41,0.06)(133.43,0.39)(133.45,0.65)(133.47,0.18)(133.49,0.46)(133.51,0.02)(133.53,0.35)(133.55,0.52)(133.57,0.14)(133.59,0.60)(133.61,0.25)(133.63,0.42)(133.65,0.09)(133.67,0.31)(133.69,0.57)(133.71,0.17)(133.73,0.47)(133.75,0.04)(133.77,0.38)(133.79,0.64)(133.81,0.21)(133.83,0.53)(133.85,0.11)(133.87,0.29)(133.89,0.45)(133.91,0.07)(133.93,0.34)(133.95,0.61)(133.97,0.19)(133.99,0.40)
(134.01,0.48)(134.03,0.12)(134.05,0.62)(134.07,0.33)(134.09,0.05)(134.11,0.41)(134.13,0.20)(134.15,0.55)(134.17,0.08)(134.19,0.27)(134.21,0.68)(134.23,0.15)(134.25,0.03)(134.27,0.36)(134.29,0.22)(134.31,0.50)(134.33,0.10)(134.35,0.44)(134.37,0.30)(134.39,0.58)(134.41,0.39)(134.43,0.06)(134.45,0.18)(134.47,0.65)(134.49,0.02)(134.51,0.46)(134.53,0.52)(134.55,0.35)(134.57,0.60)(134.59,0.14)(134.61,0.42)(134.63,0.25)(134.65,0.31)(134.67,0.09)(134.69,0.17)(134.71,0.57)(134.73,0.04)(134.75,0.47)(134.77,0.64)(134.79,0.38)(134.81,0.53)(134.83,0.21)(134.85,0.29)(134.87,0.11)(134.89,0.07)(134.91,0.45)(134.93,0.61)(134.95,0.34)(134.97,0.40)(134.99,0.19)
(135.01,0.20)(135.03,0.55)(135.05,0.33)(135.07,0.08)(135.09,0.44)(135.11,0.15)(135.13,0.36)(135.15,0.62)(135.17,0.03)(135.19,0.27)(135.21,0.50)(135.23,0.12)(135.25,0.58)(135.27,0.22)(135.29,0.05)(135.31,0.41)(135.33,0.18)(135.35,0.30)(135.37,0.65)(135.39,0.10)(135.41,0.46)(135.43,0.35)(135.45,0.02)(135.47,0.52)(135.49,0.39)(135.51,0.14)(135.53,0.42)(135.55,0.60)(135.57,0.09)(135.59,0.25)(135.61,0.57)(135.63,0.31)(135.65,0.17)(135.67,0.47)(135.69,0.38)(135.71,0.04)(135.73,0.64)(135.75,0.21)(135.77,0.53)
};
\addplot[draw=rgreen, mark=none, line width=2pt] coordinates {(127.68,1.3)(136.32,1.3)};
\end{axis}
% ---------------- German
\begin{axis}[panel, at={(46pt,49pt)}]
\addplot[dots] coordinates {
(128.00,0.20)(128.01,0.55)(128.02,0.05)(128.03,0.40)(128.04,0.75)(128.05,0.15)(128.06,0.60)(128.07,0.30)(128.08,0.90)(128.09,0.05)(128.10,1.30)(128.11,1.55)(128.12,0.45)(128.13,1.20)(128.14,0.25)(128.15,0.80)(128.16,0.10)(128.17,1.40)(128.18,0.50)(128.19,1.00)(128.20,0.20)(128.21,1.50)(128.22,0.65)(128.23,0.05)(128.24,1.60)(128.25,0.35)(128.26,0.85)(128.27,1.70)(128.28,0.15)(128.29,1.10)(128.30,0.55)(128.31,1.60)(128.32,0.25)(128.33,0.90)(128.34,1.40)(128.35,0.05)(128.36,0.70)(128.37,1.65)(128.38,0.40)(128.39,1.20)(128.40,0.10)(128.41,1.70)(128.42,0.60)(128.43,1.00)(128.44,2.90)(128.45,0.30)(128.46,1.50)(128.47,0.85)(128.48,2.50)(128.49,2.55)
(128.02,0.30)(128.05,0.45)(128.08,0.20)(128.11,0.70)(128.14,0.05)(128.17,0.35)(128.20,0.80)(128.23,0.50)(128.26,0.10)(128.29,0.40)(128.32,0.60)(128.35,0.30)(128.38,0.90)(128.41,0.15)(128.44,0.45)(128.47,0.05)
(128.50,1.05)(128.51,3.05)(128.52,0.40)(128.53,1.60)(128.54,3.05)(128.55,0.15)(128.56,1.70)(128.57,0.70)(128.58,1.25)(128.59,0.05)(128.60,1.80)(128.61,0.50)(128.62,1.00)(128.63,0.25)(128.64,2.70)(128.65,0.80)(128.66,1.30)(128.67,0.10)(128.68,0.60)(128.69,1.10)(128.70,0.35)(128.71,1.50)(128.72,0.90)(128.73,0.20)(128.74,1.20)(128.75,1.96)(128.76,0.45)(128.77,1.00)(128.78,0.05)(128.79,0.70)(128.80,1.30)(128.81,0.30)(128.82,0.85)(128.83,0.15)(128.84,0.55)(128.85,1.10)(128.86,0.25)(128.87,0.75)(128.88,1.20)(128.89,0.40)(128.90,0.95)(128.91,2.85)(128.92,0.20)(128.93,1.70)(128.94,2.95)(128.95,1.30)(128.96,2.20)(128.97,3.00)(128.98,2.30)(128.99,0.60)
(128.52,0.85)(128.56,0.25)(128.60,0.40)(128.63,0.65)(128.66,0.40)(128.70,0.05)(128.74,0.30)(128.78,0.50)(128.82,0.40)(128.86,0.05)(128.90,0.20)(128.94,0.50)(128.98,0.30)
(129.00,2.15)(129.01,1.20)(129.02,2.00)(129.03,0.80)(129.04,1.50)(129.05,0.30)(129.06,1.80)(129.07,1.00)(129.08,0.45)(129.09,1.30)(129.10,0.65)(129.11,1.10)(129.12,0.20)(129.13,0.90)(129.14,1.30)(129.15,0.55)(129.16,1.00)(129.17,0.25)(129.18,0.80)(129.19,1.20)(129.20,0.40)(129.21,0.95)(129.22,0.10)(129.23,0.70)(129.24,1.05)(129.25,0.35)(129.26,0.85)(129.27,0.50)(129.28,1.00)(129.29,0.20)(129.30,0.75)(129.31,0.40)(129.32,0.90)(129.33,0.10)(129.34,0.60)(129.35,0.85)(129.36,0.30)(129.37,0.70)(129.38,0.05)(129.39,0.50)(129.40,0.80)(129.41,0.25)(129.42,0.60)(129.43,0.10)(129.44,0.45)(129.45,0.75)(129.46,0.20)(129.47,0.55)(129.48,0.05)(129.49,0.35)
(129.02,0.50)(129.05,0.95)(129.08,0.15)(129.11,0.40)(129.14,0.05)(129.17,0.60)(129.20,0.85)(129.23,0.30)(129.26,0.05)(129.30,0.30)(129.34,0.20)
(129.50,0.65)(129.51,0.15)(129.52,0.40)(129.53,0.05)(129.54,0.30)(129.55,0.55)(129.56,0.10)(129.57,0.80)(129.58,0.25)(129.59,0.05)(129.60,0.45)(129.61,0.15)(129.62,0.30)(129.63,0.05)(129.64,0.20)(129.65,0.40)(129.66,0.10)(129.67,0.25)(129.68,0.05)(129.69,0.35)(129.70,0.15)(129.71,0.50)(129.72,0.05)(129.73,0.30)(129.75,0.20)(129.76,0.45)(129.78,0.10)(129.80,0.35)(129.81,1.00)(129.82,0.90)(129.83,0.95)(129.84,0.55)(129.86,0.40)(129.88,0.70)(129.90,0.80)(129.91,0.35)(129.93,0.50)(129.95,0.25)(129.97,0.45)(129.99,0.30)
(130.01,0.40)(130.03,0.20)(130.05,0.50)(130.07,0.30)(130.09,0.15)(130.11,0.45)(130.13,0.25)(130.15,0.35)(130.17,0.50)(130.19,0.80)(130.21,0.90)(130.23,0.95)(130.25,0.60)(130.27,0.40)(130.29,0.70)(130.31,1.65)(130.33,1.00)(130.35,1.20)(130.37,0.80)(130.39,0.75)(130.41,0.50)(130.43,0.40)(130.44,2.20)(130.46,2.00)(130.47,0.30)(130.48,2.30)(130.49,1.90)
(130.50,0.35)(130.51,2.10)(130.52,2.30)(130.53,1.80)(130.54,1.60)(130.55,0.45)(130.56,1.40)(130.57,2.20)(130.58,1.13)(130.59,0.30)(130.60,2.50)(130.61,2.40)(130.62,0.40)(130.63,0.20)(130.65,0.50)(130.67,0.25)(130.69,2.40)(130.70,0.35)(130.72,0.50)(130.74,0.15)(130.76,0.30)(130.79,3.67)(130.80,0.20)(130.82,0.45)(130.84,0.05)(130.86,2.95)(130.87,0.30)(130.88,3.65)(130.90,0.15)(130.92,0.55)(130.94,0.05)(130.96,0.60)(130.98,0.30)
(131.01,0.20)(131.04,0.40)(131.07,2.47)(131.08,0.30)(131.11,0.10)(131.14,0.35)(131.17,0.05)(131.20,0.25)(131.23,0.40)(131.26,0.15)(131.28,3.80)(131.30,0.30)(131.32,0.10)(131.34,2.75)(131.36,0.35)(131.38,1.70)(131.40,0.05)(131.42,0.25)(131.44,0.40)(131.47,1.35)(131.49,0.20)(131.51,0.60)(131.52,0.10)(131.53,0.85)(131.54,0.40)(131.55,0.05)(131.56,0.70)(131.57,0.30)(131.58,0.95)(131.59,0.15)
(131.60,0.55)(131.61,1.05)(131.62,0.25)(131.63,0.75)(131.64,0.05)(131.65,1.20)(131.66,0.45)(131.67,0.90)(131.68,0.15)(131.69,1.30)(131.70,0.60)(131.71,0.30)(131.72,1.00)(131.73,0.10)(131.74,1.25)(131.75,0.50)(131.76,0.80)(131.77,0.20)(131.78,1.30)(131.79,0.40)(131.80,0.95)(131.81,0.05)(131.82,1.20)(131.83,0.65)(131.84,0.30)(131.85,1.10)(131.86,0.15)(131.87,0.80)(131.88,1.85)(131.89,2.00)(131.90,0.40)(131.91,0.10)(131.92,0.60)(131.93,0.25)(131.94,0.35)(131.96,0.15)(131.98,1.40)(131.99,0.30)
(131.62,0.60)(131.65,0.30)(131.68,0.70)(131.71,0.05)(131.74,0.35)(131.77,0.60)(131.80,0.20)(131.83,0.05)(131.86,0.55)
(132.00,1.50)(132.01,1.60)(132.02,0.20)(132.04,0.40)(132.06,0.10)(132.07,1.60)(132.08,0.30)(132.10,0.15)(132.12,0.35)(132.14,0.20)(132.16,0.40)(132.18,0.10)(132.20,1.00)(132.21,0.30)(132.23,0.15)(132.25,0.40)(132.27,0.20)(132.29,0.35)(132.31,0.10)(132.32,0.55)(132.33,0.25)(132.34,0.80)(132.35,0.05)(132.36,1.88)(132.37,0.45)(132.38,0.15)(132.39,0.70)(132.40,0.30)(132.41,0.90)(132.42,0.05)(132.43,0.55)(132.44,2.30)(132.45,0.25)(132.46,0.75)(132.47,0.10)(132.48,1.05)(132.49,0.40)
(132.50,0.20)(132.51,0.85)(132.52,0.05)(132.53,0.60)(132.54,1.20)(132.55,0.30)(132.56,0.75)(132.57,0.10)(132.58,1.50)(132.59,1.40)(132.60,0.45)(132.61,1.60)(132.62,0.90)(132.63,1.30)(132.64,0.20)(132.65,0.65)(132.66,0.05)(132.67,0.50)(132.68,1.00)(132.69,0.25)(132.70,0.80)(132.71,0.15)(132.72,0.55)(132.73,1.10)(132.74,0.35)(132.75,0.70)(132.76,0.05)(132.77,0.45)(132.78,1.25)(132.79,0.20)(132.80,0.90)(132.81,0.40)(132.82,1.50)(132.83,0.10)(132.84,0.65)(132.85,1.00)(132.86,0.30)(132.87,0.75)(132.88,0.05)(132.89,1.15)(132.90,0.50)(132.91,0.20)(132.92,0.85)(132.93,0.40)(132.94,1.30)(132.95,0.10)(132.96,0.60)(132.97,1.00)(132.98,1.60)(132.99,0.25)
(132.52,0.40)(132.56,0.15)(132.60,0.05)(132.64,0.70)(132.68,0.40)(132.72,0.05)(132.76,0.60)(132.80,0.25)(132.84,0.10)(132.88,0.50)(132.92,0.02)(132.96,0.30)
(133.00,1.75)(133.01,0.70)(133.02,1.80)(133.03,0.35)(133.04,1.40)(133.05,0.05)(133.06,0.90)(133.07,1.20)(133.08,0.45)(133.09,1.90)(133.10,0.20)(133.11,0.80)(133.12,1.10)(133.13,0.30)(133.14,0.65)(133.15,0.05)(133.16,0.95)(133.17,0.40)(133.18,1.50)(133.19,0.15)(133.20,0.70)(133.21,1.00)(133.22,0.25)(133.23,0.55)(133.24,0.10)(133.25,0.85)(133.26,0.35)(133.27,1.20)(133.28,0.05)(133.29,0.60)(133.30,0.30)(133.31,0.90)(133.32,0.15)(133.33,0.50)(133.34,0.75)(133.35,0.10)(133.36,0.40)(133.37,0.25)(133.38,0.90)(133.39,0.05)(133.40,0.60)(133.42,0.30)(133.43,0.80)(133.45,0.15)(133.46,0.55)(133.48,0.95)(133.49,0.25)
(133.02,0.15)(133.06,0.45)(133.10,0.60)(133.14,0.20)(133.18,0.50)(133.22,0.05)(133.26,0.70)(133.30,0.05)
(133.51,0.10)(133.53,0.65)(133.54,0.35)(133.56,1.00)(133.57,0.20)(133.59,0.45)(133.60,0.85)(133.62,0.10)(133.63,0.55)(133.65,0.30)(133.66,0.90)(133.68,0.05)(133.69,0.40)(133.71,1.00)(133.72,0.20)(133.74,0.60)(133.75,0.10)(133.77,0.35)(133.78,0.85)(133.80,0.25)(133.81,0.50)(133.83,0.05)(133.84,0.30)(133.85,0.60)(133.86,0.15)(133.87,0.45)(133.88,0.20)(133.89,0.70)(133.90,0.30)(133.91,1.00)(133.92,0.90)(133.93,0.10)(133.94,0.40)(133.95,0.20)(133.96,0.55)(133.97,0.05)(133.98,0.30)(133.99,0.15)
(134.00,0.45)(134.01,0.10)(134.02,0.30)(134.03,0.75)(134.04,0.05)(134.05,0.50)(134.06,0.20)(134.07,1.81)(134.08,0.40)(134.09,0.85)(134.10,0.10)(134.11,0.60)(134.12,2.09)(134.13,0.25)(134.14,0.70)(134.15,0.05)(134.16,0.45)(134.18,0.90)(134.19,0.20)(134.20,0.55)(134.21,0.10)(134.22,0.35)(134.23,0.80)(134.24,0.05)(134.25,0.45)(134.26,0.20)(134.27,0.65)(134.28,0.30)(134.29,0.90)(134.30,0.10)(134.31,0.55)(134.32,0.25)(134.33,0.75)(134.34,0.05)(134.35,0.40)(134.36,1.00)(134.37,0.15)(134.38,0.60)(134.39,0.30)(134.40,0.85)(134.41,0.05)(134.42,0.50)(134.43,0.20)(134.44,0.70)(134.45,0.35)(134.46,0.95)(134.47,0.10)(134.48,0.55)(134.49,0.25)
(134.50,0.80)(134.51,1.45)(134.52,0.40)(134.53,0.05)(134.54,0.65)(134.55,0.20)(134.56,1.00)(134.57,0.35)(134.58,0.75)(134.59,0.10)(134.60,0.50)(134.61,0.90)(134.62,3.15)(134.62,2.03)(134.63,1.20)(134.64,1.00)(134.65,0.30)(134.66,0.60)(134.67,0.05)(134.68,0.45)(134.69,0.80)(134.70,0.20)(134.71,0.55)(134.72,0.10)(134.73,0.70)(134.74,0.35)(134.76,0.90)(134.77,0.05)(134.78,1.00)(134.79,0.95)(134.80,0.40)(134.81,0.20)(134.82,0.60)(134.83,0.05)(134.84,0.35)(134.85,0.75)(134.86,0.15)(134.87,0.50)(134.88,0.25)(134.89,0.95)(134.90,0.10)(134.91,0.65)(134.92,0.30)(134.93,0.80)(134.94,0.05)(134.95,0.45)(134.96,0.70)(134.97,0.20)(134.98,0.90)(134.99,0.40)
(134.52,0.60)(134.56,0.15)(134.60,0.30)(134.64,0.45)(134.68,0.25)(134.72,0.50)(134.80,0.75)(134.88,0.55)
(135.00,2.30)(135.01,2.25)(135.02,1.20)(135.03,2.15)(135.04,2.40)(135.05,1.80)(135.06,2.20)(135.07,3.37)(135.08,2.10)(135.09,1.60)(135.10,1.40)(135.11,1.60)(135.12,0.50)(135.13,1.70)(135.14,0.20)(135.15,1.70)(135.16,0.85)(135.17,0.35)(135.18,1.20)(135.19,0.05)(135.20,1.85)(135.21,0.60)(135.22,1.00)(135.23,0.25)(135.24,0.75)(135.25,1.15)(135.26,0.10)(135.27,0.50)(135.28,0.90)(135.29,0.30)(135.30,0.65)(135.31,0.05)(135.32,1.00)(135.33,1.60)(135.34,1.40)(135.35,0.45)(135.36,0.80)(135.37,0.15)(135.38,0.55)(135.39,0.95)(135.40,0.25)(135.41,0.70)(135.42,0.05)(135.43,0.40)(135.44,1.20)(135.45,0.20)(135.46,0.60)(135.47,0.10)(135.48,0.85)(135.49,0.35)
(135.00,0.40)(135.02,0.70)(135.04,0.15)(135.06,0.95)(135.08,0.30)(135.10,0.65)(135.12,1.10)(135.14,0.80)(135.16,0.40)(135.20,0.20)(135.24,0.40)(135.28,0.05)
(135.50,0.05)(135.52,0.25)(135.54,0.10)(135.56,0.30)(135.58,0.05)(135.60,0.20)(135.61,0.35)(135.62,0.10)(135.63,0.25)(135.64,0.45)(135.65,0.15)(135.66,0.30)(135.67,0.05)(135.68,0.40)(135.69,0.20)(135.70,0.55)(135.71,0.10)(135.72,0.35)(135.73,1.30)(135.74,0.60)(135.75,0.25)(135.76,0.80)(135.77,0.45)(135.78,1.60)(135.79,0.15)(135.80,0.40)(135.82,0.20)(135.84,0.35)(135.86,0.10)(135.88,0.30)(135.90,0.50)(135.92,0.70)(135.94,0.40)(135.96,0.75)(135.97,0.55)(135.98,0.05)(135.99,0.65)(136.00,0.80)
};
\addplot[dots] coordinates {
(128.01,0.12)(128.03,0.48)(128.05,0.05)(128.07,0.33)(128.09,0.62)(128.11,0.20)(128.13,0.41)(128.15,0.08)(128.17,0.55)(128.19,0.27)(128.21,0.15)(128.23,0.68)(128.25,0.36)(128.27,0.03)(128.29,0.50)(128.31,0.22)(128.33,0.44)(128.35,0.10)(128.37,0.58)(128.39,0.30)(128.41,0.06)(128.43,0.39)(128.45,0.65)(128.47,0.18)(128.49,0.46)(128.51,0.02)(128.53,0.35)(128.55,0.52)(128.57,0.14)(128.59,0.60)(128.61,0.25)(128.63,0.42)(128.65,0.09)(128.67,0.31)(128.69,0.57)(128.71,0.17)(128.73,0.47)(128.75,0.04)(128.77,0.38)(128.79,0.64)(128.81,0.21)(128.83,0.53)(128.85,0.11)(128.87,0.29)(128.89,0.45)(128.91,0.07)(128.93,0.34)(128.95,0.61)(128.97,0.19)(128.99,0.40)
(129.01,0.48)(129.03,0.12)(129.05,0.62)(129.07,0.33)(129.09,0.05)(129.11,0.41)(129.13,0.20)(129.15,0.55)(129.17,0.08)(129.19,0.27)(129.21,0.68)(129.23,0.15)(129.25,0.03)(129.27,0.36)(129.29,0.22)(129.31,0.50)(129.33,0.10)(129.35,0.44)(129.37,0.30)(129.39,0.58)(129.41,0.39)(129.43,0.06)(129.45,0.18)(129.47,0.65)(129.49,0.02)
(131.61,0.20)(131.63,0.55)(131.65,0.33)(131.67,0.08)(131.69,0.44)(131.71,0.15)(131.73,0.36)(131.75,0.62)(131.77,0.03)(131.79,0.27)(131.81,0.50)(131.83,0.12)(131.85,0.58)(131.87,0.22)(131.89,0.05)(131.91,0.41)(131.93,0.18)(131.95,0.30)(131.97,0.65)(131.99,0.10)
(132.01,0.58)(132.03,0.22)(132.05,0.40)(132.07,0.06)(132.09,0.33)(132.11,0.50)(132.13,0.15)(132.15,0.62)(132.17,0.28)(132.19,0.03)(132.21,0.44)(132.23,0.37)(132.25,0.10)(132.27,0.56)(132.29,0.19)(132.31,0.47)(132.33,0.05)(132.35,0.31)(132.37,0.60)(132.39,0.24)(132.41,0.12)(132.43,0.42)(132.45,0.66)(132.47,0.08)(132.49,0.36)(132.51,0.51)(132.53,0.17)(132.55,0.29)(132.57,0.04)(132.59,0.45)(132.61,0.22)(132.63,0.55)(132.65,0.13)(132.67,0.34)(132.69,0.06)(132.71,0.48)(132.73,0.27)(132.75,0.60)(132.77,0.10)(132.79,0.38)(132.81,0.52)(132.83,0.16)(132.85,0.43)(132.87,0.01)(132.89,0.30)(132.91,0.57)(132.93,0.20)(132.95,0.35)(132.97,0.09)(132.99,0.46)
(133.01,0.48)(133.03,0.12)(133.05,0.62)(133.07,0.33)(133.09,0.05)(133.11,0.41)(133.13,0.20)(133.15,0.55)(133.17,0.08)(133.19,0.27)(133.21,0.68)(133.23,0.15)(133.25,0.03)(133.27,0.36)(133.29,0.22)(133.31,0.50)(133.33,0.10)(133.35,0.44)(133.37,0.30)(133.39,0.58)(133.41,0.39)(133.43,0.06)(133.45,0.18)(133.47,0.65)(133.49,0.02)(133.51,0.46)(133.53,0.52)(133.55,0.35)(133.57,0.60)(133.59,0.14)(133.61,0.42)(133.63,0.25)(133.65,0.31)(133.67,0.09)(133.69,0.17)(133.71,0.57)(133.73,0.04)(133.75,0.47)(133.77,0.64)(133.79,0.38)(133.81,0.53)(133.83,0.21)(133.85,0.29)(133.87,0.11)(133.89,0.07)(133.91,0.45)(133.93,0.61)(133.95,0.34)(133.97,0.40)(133.99,0.19)
(134.01,0.12)(134.03,0.48)(134.05,0.05)(134.07,0.33)(134.09,0.62)(134.11,0.20)(134.13,0.41)(134.15,0.08)(134.17,0.55)(134.19,0.27)(134.21,0.15)(134.23,0.68)(134.25,0.36)(134.27,0.03)(134.29,0.50)(134.31,0.22)(134.33,0.44)(134.35,0.10)(134.37,0.58)(134.39,0.30)(134.41,0.06)(134.43,0.39)(134.45,0.65)(134.47,0.18)(134.49,0.46)(134.51,0.02)(134.53,0.35)(134.55,0.52)(134.57,0.14)(134.59,0.60)(134.61,0.25)(134.63,0.42)(134.65,0.09)(134.67,0.31)(134.69,0.57)(134.71,0.17)(134.73,0.47)(134.75,0.04)(134.77,0.38)(134.79,0.64)(134.81,0.21)(134.83,0.53)(134.85,0.11)(134.87,0.29)(134.89,0.45)(134.91,0.07)(134.93,0.34)(134.95,0.61)(134.97,0.19)(134.99,0.40)
(135.01,0.20)(135.03,0.55)(135.05,0.33)(135.07,0.08)(135.09,0.44)(135.11,0.15)(135.13,0.36)(135.15,0.62)(135.17,0.03)(135.19,0.27)(135.21,0.50)(135.23,0.12)(135.25,0.58)(135.27,0.22)(135.29,0.05)(135.31,0.41)(135.33,0.18)(135.35,0.30)(135.37,0.65)(135.39,0.10)(135.41,0.46)(135.43,0.35)(135.45,0.02)(135.47,0.52)(135.49,0.39)(135.51,0.14)(135.53,0.42)(135.55,0.60)(135.57,0.09)(135.59,0.25)(135.61,0.57)(135.63,0.31)(135.65,0.17)(135.67,0.47)(135.69,0.38)(135.71,0.04)(135.73,0.64)(135.75,0.21)(135.77,0.53)(135.79,0.29)(135.81,0.11)(135.83,0.45)(135.85,0.19)(135.87,0.61)(135.89,0.07)(135.91,0.34)(135.93,0.40)(135.95,0.24)(135.97,0.13)(135.99,0.49)
};
\addplot[draw=rgreen, mark=none, line width=2pt] coordinates {(127.68,1.3)(136.32,1.3)};
\addplot[draw=rred, mark=none, line width=1pt] coordinates {(127.68,7.3)(136.32,7.3)};
\addplot[draw=rblue, mark=none, line width=1pt] coordinates {(127.68,5)(136.32,5)};
\end{axis}
% ---------------- texts
\node[font=\bfseries\fontsize{11.25}{13}\selectfont, anchor=base] at (369.5,622.3) {Netherlands};
\node[font=\bfseries\fontsize{11.25}{13}\selectfont, anchor=base] at (369.5,404) {GAIN};
\node[font=\bfseries\fontsize{11.25}{13}\selectfont, anchor=base] at (369.5,193) {German};
\node[font=\fontsize{10}{12}\selectfont, anchor=base] at (369.5,437) {Chromosome 5 position};
\node[font=\fontsize{10}{12}\selectfont, anchor=base] at (369.5,219) {Chromosome 5 position};
\node[font=\fontsize{10}{12}\selectfont, anchor=base] at (369.5,7) {Chromosome 5 position};
\node[font=\fontsize{10}{12}\selectfont, rotate=90, anchor=center] at (8.5,543) {-log\textsubscript{10}(\textit{p})};
\node[font=\fontsize{10}{12}\selectfont, rotate=90, anchor=center] at (8.5,325) {-log\textsubscript{10}(\textit{p})};
\node[font=\fontsize{10}{12}\selectfont, rotate=90, anchor=center] at (8.5,116) {-log\textsubscript{10}(\textit{p})};
\end{tikzpicture}
\end{document}
